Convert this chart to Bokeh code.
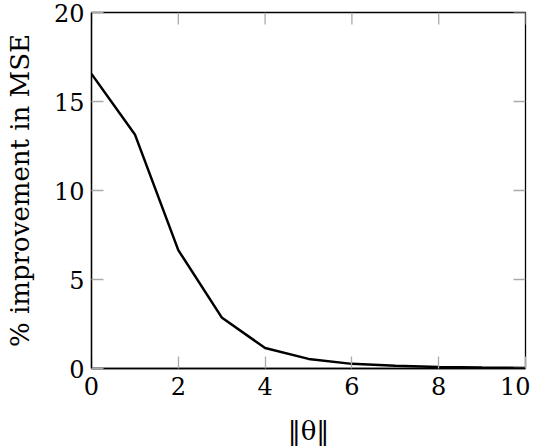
import math
from bokeh.plotting import figure
from bokeh.models import Range1d, FixedTicker
from bokeh.embed import file_html
from bokeh.resources import INLINE

theta_norm = [0, 1, 2, 3, 4, 5, 6, 7, 8, 9, 10]
improvement = [16.55, 13.15, 6.65, 2.87, 1.15, 0.54, 0.26, 0.15, 0.09, 0.05, 0.03]
x_ticks = [0, 2, 4, 6, 8, 10]
y_ticks = [0, 5, 10, 15, 20]

FONT = "DejaVu Serif"
TICK_COLOR = "#aaaaaa"

p = figure(width=530, height=448, output_backend="svg", toolbar_location=None,
           x_range=Range1d(0, 10), y_range=Range1d(0, 20),
           x_axis_label="‖θ‖", y_axis_label="% improvement in MSE",
           min_border_left=91, min_border_right=5, min_border_top=12, min_border_bottom=80)
p.grid.visible = False
p.outline_line_color = "black"
p.outline_line_width = 1.3
p.background_fill_color = "white"
p.border_fill_color = "white"

p.line(theta_norm, improvement, line_color="black", line_width=2.5)

# mirrored ticks on the top and right edges
p.ray(x=x_ticks, y=[20] * len(x_ticks), length=12, length_units="screen",
      angle=-math.pi / 2, line_color=TICK_COLOR, line_width=1.3)
p.ray(x=[10] * len(y_ticks), y=y_ticks, length=12, length_units="screen",
      angle=math.pi, line_color=TICK_COLOR, line_width=1.3)

for ax, ticks in ((p.xaxis[0], x_ticks), (p.yaxis[0], y_ticks)):
    ax.ticker = FixedTicker(ticks=ticks)
    ax.major_tick_in = 12
    ax.major_tick_out = 0
    ax.minor_tick_line_color = None
    ax.major_tick_line_color = TICK_COLOR
    ax.major_tick_line_width = 1.3
    ax.axis_line_color = "black"
    ax.axis_line_width = 1.3
    ax.major_label_text_font = FONT
    ax.major_label_text_font_size = "24px"
    ax.major_label_text_color = "black"
    ax.axis_label_text_font = FONT
    ax.axis_label_text_font_size = "26px"
    ax.axis_label_text_font_style = "normal"
    ax.axis_label_text_color = "black"

p.xaxis[0].major_label_standoff = 8
p.yaxis[0].major_label_standoff = 7
p.xaxis[0].axis_label_standoff = 18
p.yaxis[0].axis_label_standoff = 16

open("out.html", "w").write(file_html(p, INLINE))
